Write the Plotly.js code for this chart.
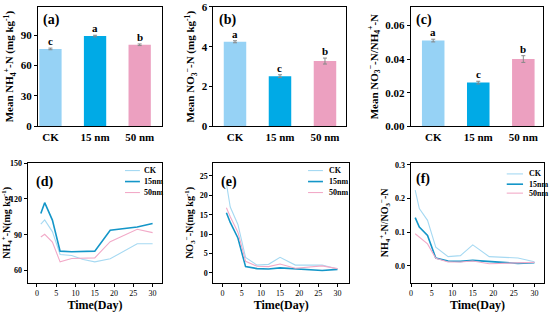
<!DOCTYPE html>
<html>
<head>
<meta charset="utf-8">
<script src="https://cdn.plot.ly/plotly-3.0.1.min.js"></script>
<style>
  html, body { margin: 0; padding: 0; background: #fff; }
  #chart { width: 550px; height: 315px; }
</style>
</head>
<body>
<div id="chart"></div>
<script>
// bar panels
const groups = ['CK', '15 nm', '50 nm'];
const meanNH4 = [76.5, 89.2, 80.6];
const errNH4 = [0.8, 0.8, 0.8];
const letNH4 = ['c', 'a', 'b'];
const meanNO3 = [4.25, 2.52, 3.28];
const errNO3 = [0.05, 0.07, 0.15];
const letNO3 = ['a', 'c', 'b'];
const meanRatio = [0.051, 0.026, 0.040];
const errRatio = [0.0008, 0.0008, 0.002];
const letRatio = ['a', 'c', 'b'];

// time course panels
const days = [1, 2, 4, 6, 9, 12, 15, 19, 26, 30];
const seriesNames = ['CK', '15nm', '50nm'];
const nh4CK = [99, 102.5, 92.7, 73.5, 72.7, 69.3, 67.3, 69.9, 82.5, 82.5];
const nh4N15 = [107.9, 116.9, 102.3, 76.3, 75.8, 75.8, 76.3, 93.8, 96.6, 99.4];
const nh4N50 = [88.2, 90.4, 83.9, 67.3, 70.1, 70.7, 70.7, 84.2, 94.6, 91.8];
const no3CK = [23, 17, 12.5, 4, 2, 2.2, 4, 2, 2, 1];
const no3N15 = [15.5, 13, 9, 1.6, 1.1, 1, 1.3, 1.1, 0.6, 0.9];
const no3N50 = [16.8, 14.5, 10.5, 3, 1.7, 1.6, 2.3, 1.2, 1.8, 1.1];
const ratCK = [0.225, 0.17, 0.135, 0.055, 0.027, 0.03, 0.062, 0.027, 0.023, 0.012];
const ratN15 = [0.143, 0.115, 0.09, 0.023, 0.014, 0.013, 0.016, 0.012, 0.007, 0.009];
const ratN50 = [0.095, 0.085, 0.065, 0.022, 0.011, 0.011, 0.014, 0.006, 0.009, 0.01];

const barColors = ['#96d2f5', '#00aae6', '#eca0c0'];
const lineColors = ['#a6d9f2', '#1496c8', '#f2aac8'];
const lineWidths = [1.1, 1.6, 1.1];
const FONT = 'Liberation Serif, Times New Roman, serif';

let data = [];
let annotations = [];
let shapes = [];

// bar panels
const barSets = [
    { y: meanNH4, e: errNH4, l: letNH4, ax: '' },
    { y: meanNO3, e: errNO3, l: letNO3, ax: '2' },
    { y: meanRatio, e: errRatio, l: letRatio, ax: '3' }
];
barSets.forEach(function (s) {
    data.push({
        type: 'bar', x: groups, y: s.y,
        xaxis: 'x' + s.ax, yaxis: 'y' + s.ax,
        width: 0.5,
        marker: { color: barColors },
        error_y: { type: 'data', array: s.e, color: '#888', thickness: 1, width: 2 },
        showlegend: false, hoverinfo: 'skip'
    });
    for (let i = 0; i < groups.length; i++) {
        annotations.push({
            x: groups[i], y: s.y[i] + s.e[i], xref: 'x' + s.ax, yref: 'y' + s.ax,
            text: '<b>' + s.l[i] + '</b>', showarrow: false, yanchor: 'bottom', yshift: -1,
            font: { family: FONT, size: 11, color: '#000' }
        });
    }
});

// line panels, with a small hand-made legend in the upper right corner
const lineSets = [
    { ys: [nh4CK, nh4N15, nh4N50], ax: '4', lx: [0.723, 0.834, 0.85], ly: [0.938, 0.846, 0.754] },
    { ys: [no3CK, no3N15, no3N50], ax: '5', lx: [0.698, 0.808, 0.835], ly: [0.938, 0.846, 0.754] },
    { ys: [ratCK, ratN15, ratN50], ax: '6', lx: [0.719, 0.841, 0.868], ly: [0.910, 0.824, 0.749] }
];
lineSets.forEach(function (s) {
    for (let k = 0; k < 3; k++) {
        data.push({
            type: 'scatter', mode: 'lines', x: days, y: s.ys[k],
            xaxis: 'x' + s.ax, yaxis: 'y' + s.ax,
            name: seriesNames[k], showlegend: false,
            line: { color: lineColors[k], width: lineWidths[k] },
            hoverinfo: 'skip'
        });
        shapes.push({
            type: 'line', xref: 'x' + s.ax + ' domain', yref: 'y' + s.ax + ' domain',
            x0: s.lx[0], x1: s.lx[1], y0: s.ly[k], y1: s.ly[k],
            line: { color: lineColors[k], width: lineWidths[k] }
        });
        annotations.push({
            xref: 'x' + s.ax + ' domain', yref: 'y' + s.ax + ' domain',
            x: s.lx[2], y: s.ly[k], xanchor: 'left', yanchor: 'middle', showarrow: false,
            text: '<b>' + seriesNames[k] + '</b>',
            font: { family: FONT, size: 8, color: '#000' }
        });
    }
});

// panel labels
const labels = [
    ['(a)', 0.075, 0.968], ['(b)', 0.395, 0.968], ['(c)', 0.753, 0.968],
    ['(d)', 0.062, 0.455], ['(e)', 0.398, 0.455], ['(f)', 0.752, 0.462]
];
labels.forEach(function (p) {
    annotations.push({
        text: '<b>' + p[0] + '</b>', x: p[1], y: p[2], xref: 'paper', yref: 'paper',
        xanchor: 'left', yanchor: 'top', showarrow: false,
        font: { family: FONT, size: 14, color: '#000' }
    });
});

function yax(domain, range, dtick, fmt, title, size, tsize, anchor) {
    return {
        domain: domain, range: range, dtick: dtick, tickformat: fmt, anchor: anchor,
        showline: true, mirror: true, linecolor: '#000', linewidth: 1,
        ticks: 'outside', ticklen: 3, tickcolor: '#000', showgrid: false, zeroline: false,
        tickfont: { family: FONT, size: size, color: '#000', weight: 'bold' },
        title: { text: '<b>' + title + '</b>', font: { family: FONT, size: tsize, color: '#000' }, standoff: 4 }
    };
}
function xbar(domain, range, anchor) {
    return {
        domain: domain, range: range, anchor: anchor, type: 'category',
        showline: true, mirror: true, linecolor: '#000', linewidth: 1,
        ticks: '', showgrid: false, zeroline: false,
        tickfont: { family: FONT, size: 11, color: '#000', weight: 'bold' }
    };
}
function xline(domain, range, anchor) {
    return {
        domain: domain, range: range, anchor: anchor, dtick: 5,
        showline: true, mirror: true, linecolor: '#000', linewidth: 1,
        ticks: 'outside', ticklen: 3, tickcolor: '#000', showgrid: false, zeroline: false,
        tickfont: { family: FONT, size: 8, color: '#000' },
        title: { text: '<b>Time(Day)</b>', font: { family: FONT, size: 12, color: '#000' }, standoff: 3 }
    };
}

const topY = [0.599, 0.978];
const botY = [0.103, 0.482];

const layout = {
    width: 550, height: 315,
    margin: { l: 0, r: 0, t: 0, b: 0 },
    paper_bgcolor: '#fff', plot_bgcolor: '#fff',
    font: { family: FONT, color: '#000' },
    showlegend: false,
    xaxis: xbar([0.069, 0.2945], [-0.28, 2.5], 'y'),
    yaxis: yax(topY, [0, 118], 30, '', 'Mean NH<sub>4</sub><sup>+</sup>-N (mg kg<sup>-1</sup>)', 11, 11, 'x'),
    xaxis2: xbar([0.388, 0.6285], [-0.48, 2.46], 'y2'),
    yaxis2: yax(topY, [0, 6], 2, '', 'Mean NO<sub>3</sub><sup>−</sup>-N (mg kg<sup>-1</sup>)', 11, 11, 'x2'),
    xaxis3: xbar([0.7467, 0.9867], [-0.5, 2.43], 'y3'),
    yaxis3: yax(topY, [0, 0.071], 0.02, '.2f', 'Mean NO<sub>3</sub><sup>−</sup>-N/NH<sub>4</sub><sup>+</sup>-N', 11, 11, 'x3'),
    xaxis4: xline([0.0504, 0.295], [-2.4, 32.5], 'y4'),
    yaxis4: yax(botY, [50, 150], 30, '', 'NH<sub>4</sub><sup>+</sup>-N(mg kg<sup>-1</sup>)', 8, 10, 'x4'),
    xaxis5: xline([0.388, 0.6345], [-2.4, 33], 'y5'),
    yaxis5: yax(botY, [-2.5, 28.3], 5, '', 'NO<sub>3</sub><sup>−</sup>-N(mg kg<sup>-1</sup>)', 8, 10, 'x5'),
    xaxis6: xline([0.7467, 0.9896], [-0.1, 32.4], 'y6'),
    yaxis6: yax(botY, [-0.05, 0.305], 0.1, '.1f', 'NH<sub>4</sub><sup>+</sup>-N/NO<sub>3</sub><sup>−</sup>-N', 8, 10, 'x6'),
    shapes: shapes,
    annotations: annotations
};

Plotly.newPlot('chart', data, layout, { staticPlot: true, displayModeBar: false });
</script>
</body>
</html>
